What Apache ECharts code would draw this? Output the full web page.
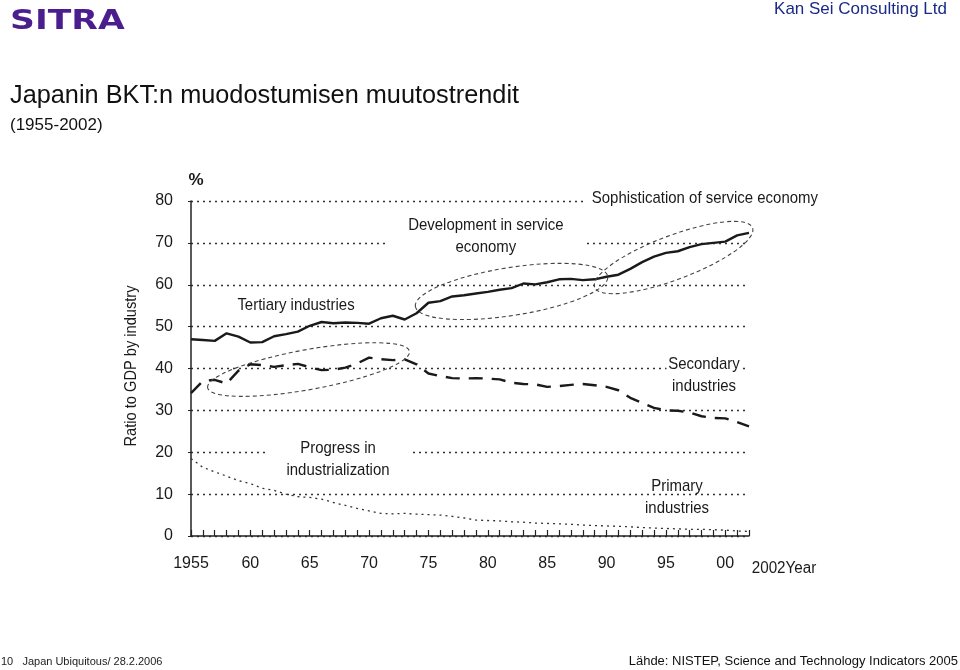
<!DOCTYPE html>
<html>
<head>
<meta charset="utf-8">
<script src="https://cdn.jsdelivr.net/npm/echarts@6/dist/echarts.min.js"></script>
<style>
html,body{margin:0;padding:0;background:#fff;}
#chart{width:960px;height:670px;}
</style>
</head>
<body>
<div id="chart"></div>
<script>
// ---- data ----
var years = [1955,1956,1957,1958,1959,1960,1961,1962,1963,1964,1965,1966,1967,1968,1969,1970,1971,1972,1973,1974,1975,1976,1977,1978,1979,1980,1981,1982,1983,1984,1985,1986,1987,1988,1989,1990,1991,1992,1993,1994,1995,1996,1997,1998,1999,2000,2001,2002];
var tertiary = [47.0,46.8,46.6,48.4,47.6,46.2,46.3,47.7,48.2,48.8,50.2,51.1,50.8,51.0,50.9,50.7,52.0,52.6,51.7,53.2,55.7,56.1,57.2,57.5,57.9,58.3,58.8,59.2,60.3,60.1,60.6,61.3,61.4,61.1,61.3,61.9,62.4,63.8,65.4,66.7,67.6,68.0,69.0,69.7,70.0,70.3,71.8,72.4];
var secondary = [34.1,37.0,37.3,36.4,39.5,41.0,40.8,40.4,40.8,41.1,40.3,39.6,39.7,40.2,41.2,42.6,42.2,42.0,42.2,41.0,38.8,38.2,37.7,37.6,37.7,37.6,37.4,36.6,36.3,36.2,35.6,35.8,36.1,36.3,36.0,35.6,34.8,33.0,31.8,30.6,30.0,29.9,29.5,28.6,28.2,28.1,27.2,26.2];
var primary = [18.5,16.4,15.3,14.3,13.2,12.5,11.4,10.9,10.0,9.4,9.2,8.8,8.0,7.3,6.6,6.0,5.4,5.3,5.4,5.2,5.1,5.0,4.7,4.3,3.8,3.7,3.6,3.4,3.3,3.1,3.0,2.9,2.8,2.6,2.5,2.4,2.3,2.2,2.0,1.9,1.8,1.7,1.6,1.6,1.5,1.4,1.2,1.1];
var yTicks = [0,10,20,30,40,50,60,70,80];
var xTickLabels = {1955:'1955',1960:'60',1965:'65',1970:'70',1975:'75',1980:'80',1985:'85',1990:'90',1995:'95',2000:'00'};
// ellipse annotations: two end points in data coordinates [year, %] and a half-width
var ellipses = [
  {a:[1956.4,35.4], b:[1973.4,44.1], ry:20},
  {a:[1973.9,54.8], b:[1990.1,62.0], ry:24},
  {a:[1989.0,59.4], b:[2002.3,73.6], ry:22}
];

var FONT = "'Liberation Sans Narrow','Arial Narrow','Liberation Sans',Arial,sans-serif";
var SANS = "'Liberation Sans',Arial,sans-serif";
var NARROW = 0.88;

function pair(arr){ return years.map(function(y,i){ return [y, arr[i]]; }); }

var chart = echarts.init(document.getElementById('chart'), null, {renderer:'canvas'});

function labelText(t, x, y, opts){
  opts = opts || {};
  return {
    type:'text', x:x, y:y, z: opts.z == null ? 1 : opts.z,
    scaleX: opts.sx || 1,
    style:{
      text:t, fill: opts.color || '#1a1a1a', font: (opts.weight||'normal') + ' ' + (opts.size||17) + 'px ' + (opts.family||FONT),
      align: opts.align || 'center', verticalAlign: opts.va || 'middle',
      lineHeight: opts.lh || 22,
      backgroundColor: opts.bg || null,
      padding: opts.pad || 0
    }
  };
}

var baseGraphics = [
  // header
  {type:'text', x:10, y:22, scaleX:1.28, style:{text:'SITRA', fill:'#4b1e8e', font:"bold 27px 'DejaVu Sans',sans-serif", align:'left', verticalAlign:'middle'}},
  labelText('Kan Sei Consulting Ltd', 947, 9, {align:'right', size:17, family:SANS, color:'#1a2a88'}),
  labelText('Japanin BKT:n muodostumisen muutostrendit', 10, 96, {align:'left', size:25.3, family:SANS, color:'#111'}),
  labelText('(1955-2002)', 10, 125, {align:'left', size:17, family:SANS, color:'#111'}),
  // footer
  labelText('10   Japan Ubiquitous/ 28.2.2006', 1, 662, {align:'left', size:11, family:SANS, color:'#222'}),
  labelText('Lähde: NISTEP, Science and Technology Indicators 2005', 958, 661, {align:'right', size:13, family:SANS, color:'#111'}),
  // axis extras
  labelText('%', 196, 180, {size:17, weight:'bold', family:SANS}),
  {type:'text', x:131, y:366, rotation:Math.PI/2, scaleX:0.86, style:{text:'Ratio to GDP by industry', fill:'#1a1a1a', font:'17px '+FONT, align:'center', verticalAlign:'middle'}},
  labelText('2002Year', 784, 569, {size:16, sx:0.95}),
  // annotations
  labelText('Sophistication of service economy', 704, 198, {bg:'#fff', pad:[2,4,2,6], sx:NARROW}),
  labelText('Development in service\neconomy', 485, 236, {bg:'#fff', pad:[0,22,0,24], sx:NARROW}),
  labelText('Tertiary industries', 296, 305, {sx:NARROW}),
  labelText('Secondary\nindustries', 704, 375, {bg:'#fff', pad:[0,2,0,2], sx:NARROW}),
  labelText('Progress in\nindustrialization', 338, 459, {bg:'#fff', pad:[0,22,0,22], sx:NARROW}),
  labelText('Primary\nindustries', 677, 497, {sx:NARROW})
];

chart.setOption({
  animation:false,
  backgroundColor:'#fff',
  grid:{left:191, right:211, top:201, bottom:134, containLabel:false},
  xAxis:{
    type:'value', min:1955, max:2002, interval:5,
    axisLine:{show:true, lineStyle:{color:'#222', width:1.5}},
    axisTick:{show:true, inside:true, length:6, lineStyle:{color:'#222', width:1.2}},
    minorTick:{show:true, splitNumber:5, length:6, lineStyle:{color:'#222', width:1.2}},
    splitLine:{show:false},
    axisLabel:{
      margin:20, color:'#1a1a1a', fontSize:16, fontFamily:FONT, showMaxLabel:false,
      formatter:function(v){ return xTickLabels[v] || ''; }
    }
  },
  yAxis:{
    type:'value', min:0, max:80, interval:10,
    axisLine:{show:true, lineStyle:{color:'#222', width:1.5}},
    axisTick:{show:true, length:3, lineStyle:{color:'#222'}},
    splitLine:{show:true, lineStyle:{color:'#333', type:[2,4], width:1.3}},
    axisLabel:{margin:18, color:'#1a1a1a', fontSize:16, fontFamily:FONT,
      formatter:function(v){ return yTicks.indexOf(v) >= 0 ? String(v) : ''; }}
  },
  series:[
    {name:'Tertiary industries', type:'line', data:pair(tertiary), showSymbol:false, symbol:'none', z:2,
     lineStyle:{color:'#1a1a1a', width:2.4}},
    {name:'Secondary industries', type:'line', data:pair(secondary), showSymbol:false, symbol:'none', z:2,
     lineStyle:{color:'#1a1a1a', width:2.4, type:[14,9]}},
    {name:'Primary industries', type:'line', data:pair(primary), showSymbol:false, symbol:'none', z:2,
     lineStyle:{color:'#333', width:1.3, type:[2,4]}}
  ],
  graphic:{elements:baseGraphics}
});

// dashed ellipses placed from data coordinates
var ellGraphics = ellipses.map(function(e){
  var p1 = chart.convertToPixel({gridIndex:0}, e.a);
  var p2 = chart.convertToPixel({gridIndex:0}, e.b);
  var cx = (p1[0]+p2[0])/2, cy = (p1[1]+p2[1])/2;
  var dx = p2[0]-p1[0], dy = p2[1]-p1[1];
  var rx = Math.sqrt(dx*dx+dy*dy)/2;
  var rot = Math.atan2(-dy, dx);
  return {type:'ellipse', x:cx, y:cy, rotation:rot, z:3,
    shape:{cx:0, cy:0, rx:rx, ry:e.ry},
    style:{fill:null, stroke:'#444', lineWidth:1.1, lineDash:[4,3]}};
});
chart.setOption({graphic:{elements:baseGraphics.concat(ellGraphics)}}, {replaceMerge:['graphic']});
</script>
</body>
</html>
